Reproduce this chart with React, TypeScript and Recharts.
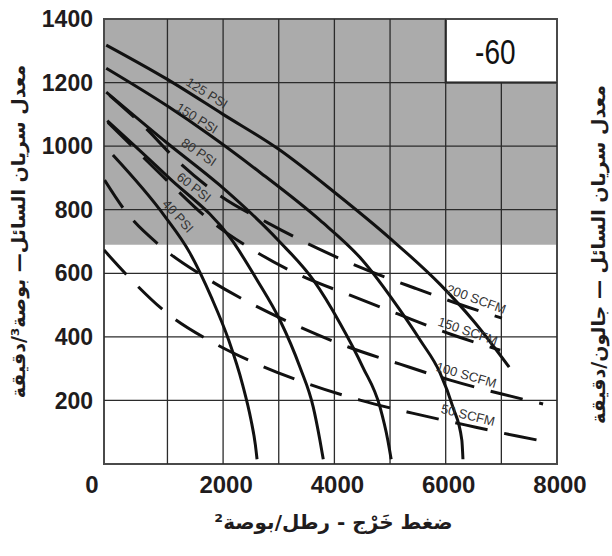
import {
  Line,
  LineChart,
  ReferenceArea,
  ReferenceDot,
  ReferenceLine,
  XAxis,
  YAxis,
} from "recharts"

// outlet pressure (psi) on x, flow (in³/min) on y
const X_MIN = -140
const X_MAX = 8000
const Y_MAX = 1400

const X_TICKS = [X_MIN, 2000, 4000, 6000, 8000]
const Y_TICKS = [0, 200, 400, 600, 800, 1000, 1200, 1400]
const GRID_X = [1000, 2000, 3000, 4000, 5000, 6000, 7000]
const GRID_Y = [200, 400, 600, 800, 1000, 1200]

// right scale (gal/min) as printed, at the heights they sit on the in³ scale
const RIGHT_TICKS = [250, 460, 665, 875, 1080, 1260]
const RIGHT_LABELS = ["-1", "-2", "-3", "-4", "-5", "-24"]

const SHADE_FROM = 690
const BOX_X = [6000, 8000]
const BOX_Y = [1200, 1400]
const BOX_TEXT = "-60"

// solid curves: air inlet pressure
const PSI_125 = [
  { x: -100, y: 1318 }, { x: 1000, y: 1210 }, { x: 2000, y: 1100 },
  { x: 3000, y: 990 }, { x: 4000, y: 855 }, { x: 5000, y: 710 },
  { x: 5900, y: 565 }, { x: 6500, y: 450 }, { x: 7140, y: 305 },
]
const PSI_150 = [
  { x: -100, y: 1245 }, { x: 1000, y: 1126 }, { x: 1760, y: 1035 },
  { x: 2660, y: 918 }, { x: 3740, y: 767 }, { x: 4500, y: 642 },
  { x: 5180, y: 484 }, { x: 5540, y: 390 }, { x: 5900, y: 286 },
  { x: 6130, y: 179 }, { x: 6290, y: 75 }, { x: 6310, y: 15 },
]
const PSI_80 = [
  { x: -100, y: 1170 }, { x: 1000, y: 1009 }, { x: 1940, y: 877 },
  { x: 2990, y: 704 }, { x: 3620, y: 579 }, { x: 4100, y: 443 },
  { x: 4510, y: 305 }, { x: 4820, y: 179 }, { x: 4960, y: 75 },
  { x: 5020, y: 15 },
]
const PSI_60 = [
  { x: -80, y: 1080 }, { x: 1000, y: 905 }, { x: 2160, y: 704 },
  { x: 2610, y: 579 }, { x: 3020, y: 453 }, { x: 3380, y: 305 },
  { x: 3620, y: 179 }, { x: 3740, y: 75 }, { x: 3800, y: 15 },
]
const PSI_40 = [
  { x: 20, y: 972 }, { x: 950, y: 780 }, { x: 1400, y: 665 },
  { x: 1800, y: 520 }, { x: 2100, y: 390 }, { x: 2350, y: 250 },
  { x: 2500, y: 140 }, { x: 2580, y: 60 }, { x: 2610, y: 15 },
]

// dashed curves: air consumption
const SCFM_200 = [
  { x: -40, y: 1160 }, { x: 590, y: 1060 }, { x: 1220, y: 947 },
  { x: 1980, y: 840 }, { x: 2810, y: 758 }, { x: 3690, y: 679 },
  { x: 4590, y: 610 }, { x: 5450, y: 553 }, { x: 6390, y: 494 },
  { x: 7010, y: 459 },
]
const SCFM_150 = [
  { x: -70, y: 1075 }, { x: 380, y: 997 }, { x: 1040, y: 884 },
  { x: 1760, y: 767 }, { x: 2540, y: 673 }, { x: 3380, y: 594 },
  { x: 4280, y: 531 }, { x: 5140, y: 472 }, { x: 6080, y: 409 },
  { x: 6980, y: 358 },
]
const SCFM_100 = [
  { x: -130, y: 893 }, { x: 230, y: 799 }, { x: 900, y: 682 },
  { x: 1670, y: 588 }, { x: 2520, y: 503 }, { x: 3380, y: 431 },
  { x: 4250, y: 368 }, { x: 5180, y: 314 }, { x: 6080, y: 264 },
  { x: 7010, y: 220 }, { x: 7750, y: 189 },
]
const SCFM_50 = [
  { x: -140, y: 673 }, { x: 290, y: 591 }, { x: 990, y: 475 },
  { x: 1800, y: 384 }, { x: 2660, y: 311 }, { x: 3530, y: 252 },
  { x: 4460, y: 201 }, { x: 5400, y: 160 }, { x: 6350, y: 123 },
  { x: 7280, y: 88 }, { x: 7750, y: 72 },
]

const SOLID = [PSI_125, PSI_150, PSI_80, PSI_60, PSI_40]
const DASHED = [SCFM_200, SCFM_150, SCFM_100, SCFM_50]

// curve captions, anchored in data units
const CAPTIONS = [
  { text: "125 PSI", x: 1710, y: 1167, tilt: 32 },
  { text: "150 PSI", x: 1530, y: 1088, tilt: 32 },
  { text: "80 PSI", x: 1565, y: 981, tilt: 34 },
  { text: "60 PSI", x: 1475, y: 871, tilt: 38 },
  { text: "40 PSI", x: 1190, y: 780, tilt: 48 },
  { text: "200 SCFM", x: 6550, y: 519, tilt: 20 },
  { text: "150 SCFM", x: 6400, y: 418, tilt: 19 },
  { text: "100 SCFM", x: 6370, y: 280, tilt: 16 },
  { text: "50 SCFM", x: 6400, y: 154, tilt: 14 },
]

const LEFT_TITLE = "معدل سريان السائل— بوصة³/دقيقة"
const RIGHT_TITLE = "معدل سريان السائل — جالون/دقيقة"
const BOTTOM_TITLE = "ضغط خَرْج - رطل/بوصة²"

const INK = "#1f1c1d"
const GRID = "#2b2b2b"
const NUM_FONT = "'Liberation Sans', Arial, sans-serif"
const AR_FONT = "'DejaVu Sans', sans-serif"

function XTick({ x, y, payload }: any) {
  const origin = payload.value === X_MIN
  return (
    <text
      x={origin ? x - 12 : x + 3}
      y={y}
      dy={17}
      textAnchor="middle"
      fontFamily={NUM_FONT}
      fontWeight={700}
      fontSize={24}
      fill={INK}
    >
      {origin ? "0" : payload.value}
    </text>
  )
}

function Caption({ viewBox, caption, tilt }: any) {
  const cx = viewBox.x + viewBox.width / 2
  const cy = viewBox.y + viewBox.height / 2
  return (
    <text
      x={cx}
      y={cy}
      transform={`rotate(${tilt} ${cx} ${cy})`}
      textAnchor="middle"
      dominantBaseline="central"
      fontFamily={NUM_FONT}
      fontSize={13}
      fill="#333"
    >
      {caption}
    </text>
  )
}

function BoxText({ viewBox }: any) {
  const cx = viewBox.x + viewBox.width / 2 - 6
  const cy = viewBox.y + viewBox.height / 2 + 1
  return (
    <text
      transform={`translate(${cx} ${cy}) scale(0.8 1)`}
      textAnchor="middle"
      dominantBaseline="central"
      fontFamily={NUM_FONT}
      fontSize={35}
      fill="#111"
    >
      {BOX_TEXT}
    </text>
  )
}

function LeftTitle({ viewBox }: any) {
  const x = viewBox.x + 18
  const y = viewBox.y + viewBox.height / 2 - 10
  return (
    <text
      x={x}
      y={y}
      transform={`rotate(-90 ${x} ${y})`}
      textAnchor="middle"
      dominantBaseline="central"
      fontFamily={AR_FONT}
      fontWeight={700}
      fontSize={19}
      fill={INK}
    >
      {LEFT_TITLE}
    </text>
  )
}

function RightTitle({ viewBox }: any) {
  const x = viewBox.x + 48
  const y = viewBox.y + viewBox.height / 2 + 13
  return (
    <text
      x={x}
      y={y}
      transform={`rotate(-90 ${x} ${y})`}
      textAnchor="middle"
      fontFamily={AR_FONT}
      fontWeight={700}
      fontSize={19}
      fill={INK}
    >
      {RIGHT_TITLE}
    </text>
  )
}

function BottomTitle({ viewBox }: any) {
  return (
    <text
      x={viewBox.x + viewBox.width / 2 + 3}
      y={viewBox.y + 58}
      textAnchor="middle"
      dominantBaseline="central"
      fontFamily={AR_FONT}
      fontWeight={700}
      fontSize={20}
      fill={INK}
    >
      {BOTTOM_TITLE}
    </text>
  )
}

export default function App() {
  return (
    <div
      style={{
        position: "absolute",
        left: 0,
        top: 0,
        width: 612,
        height: 556,
        overflow: "hidden",
        background: "#fff",
      }}
    >
      <LineChart
        width={612}
        height={556}
        margin={{ top: 19, right: 0, bottom: 0, left: 0 }}
      >
        <XAxis
          dataKey="x"
          type="number"
          domain={[X_MIN, X_MAX]}
          ticks={X_TICKS}
          allowDataOverflow
          height={92}
          axisLine={false}
          tickLine={false}
          tickSize={0}
          tickMargin={12}
          tick={<XTick />}
          label={<BottomTitle />}
        />
        <YAxis
          type="number"
          domain={[0, Y_MAX]}
          ticks={Y_TICKS}
          allowDataOverflow
          width={104}
          axisLine={false}
          tickLine={false}
          tickSize={0}
          tickMargin={11}
          tickFormatter={(v) => (v === 0 ? "" : String(v))}
          tick={{ fontSize: 23, fontWeight: 700, fill: INK, fontFamily: NUM_FONT }}
          label={<LeftTitle />}
        />
        <YAxis
          yAxisId="gal"
          orientation="right"
          type="number"
          domain={[0, Y_MAX]}
          ticks={RIGHT_TICKS}
          width={55}
          axisLine={false}
          tickLine={false}
          tickSize={0}
          tickMargin={2}
          tickFormatter={(v) => RIGHT_LABELS[RIGHT_TICKS.indexOf(v)] ?? ""}
          tick={{ fontSize: 20, fontWeight: 700, fill: INK, fontFamily: NUM_FONT }}
          label={<RightTitle />}
        />

        <ReferenceArea
          x1={X_MIN}
          x2={X_MAX}
          y1={SHADE_FROM}
          y2={Y_MAX}
          fill="#000"
          fillOpacity={0.33}
          stroke="none"
        />
        {GRID_X.map((v) => (
          <ReferenceLine
            key={"gx" + v}
            segment={[
              { x: v, y: 0 },
              { x: v, y: v > BOX_X[0] && v < BOX_X[1] ? BOX_Y[0] : Y_MAX },
            ]}
            stroke={GRID}
            strokeWidth={1.3}
          />
        ))}
        {GRID_Y.map((v) => (
          <ReferenceLine key={"gy" + v} y={v} stroke={GRID} strokeWidth={1.3} />
        ))}
        <ReferenceArea
          x1={BOX_X[0]}
          x2={BOX_X[1]}
          y1={BOX_Y[0]}
          y2={BOX_Y[1]}
          fill="#fff"
          fillOpacity={1}
          stroke="#111"
          strokeWidth={2}
          label={<BoxText />}
        />
        <ReferenceArea
          x1={X_MIN}
          x2={X_MAX}
          y1={0}
          y2={Y_MAX}
          fill="none"
          stroke="#4a4a4a"
          strokeWidth={2}
        />

        {SOLID.map((d, i) => (
          <Line
            key={"psi" + i}
            data={d}
            dataKey="y"
            type="monotone"
            stroke="#111"
            strokeWidth={3}
            dot={false}
            activeDot={false}
            isAnimationActive={false}
          />
        ))}
        {DASHED.map((d, i) => (
          <Line
            key={"scfm" + i}
            data={d}
            dataKey="y"
            type="monotone"
            stroke="#111"
            strokeWidth={3}
            strokeDasharray="33 17"
            dot={false}
            activeDot={false}
            isAnimationActive={false}
          />
        ))}

        {CAPTIONS.map((c) => (
          <ReferenceDot
            key={c.text}
            x={c.x}
            y={c.y}
            r={1}
            fill="none"
            stroke="none"
            label={<Caption caption={c.text} tilt={c.tilt} />}
          />
        ))}
      </LineChart>
    </div>
  )
}
